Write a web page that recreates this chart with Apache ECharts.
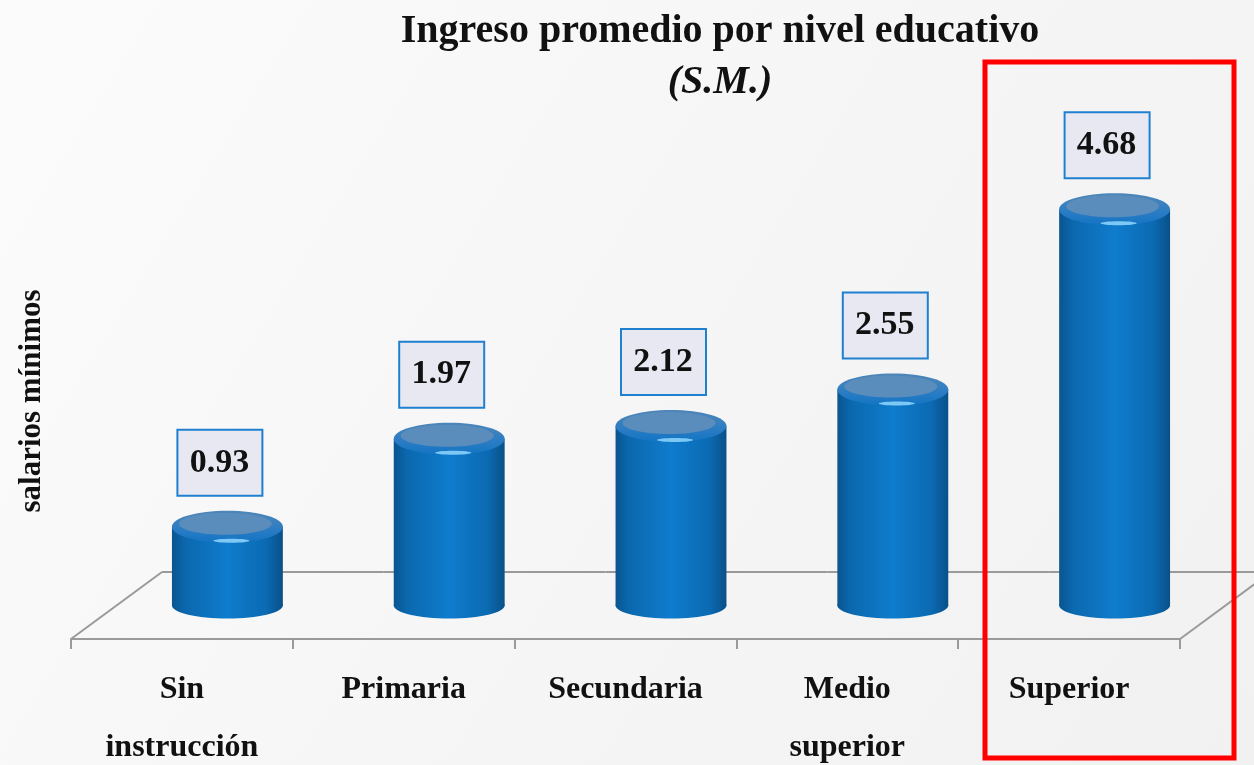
<!DOCTYPE html>
<html><head><meta charset="utf-8">
<script src="https://cdn.jsdelivr.net/npm/echarts@6/dist/echarts.min.js"></script>
<style>html,body{margin:0;padding:0;background:#f5f5f5}#c{width:1254px;height:765px}</style>
</head><body><div id="c"></div>
<script>
const categories = ['Sin\ninstrucción', 'Primaria', 'Secundaria', 'Medio\nsuperior', 'Superior'];
const values = [0.93, 1.97, 2.12, 2.55, 4.68];
const valueLabels = ['0.93', '1.97', '2.12', '2.55', '4.68'];
const titleText = 'Ingreso promedio por nivel educativo';
const subtitleText = '(S.M.)';
const yAxisName = 'salarios mínimos';

const DEPTH_X = 91, DEPTH_Y = -67;
const serif = '"Liberation Serif", "DejaVu Serif", serif';
const chart = echarts.init(document.getElementById('c'), null, {renderer: 'canvas'});

function floorRender(params, api) {
  const i = params.dataIndex, n = values.length;
  const c = api.coord([i, 0]);
  const bw = api.size([1, 0])[0];
  const x0 = c[0] - bw / 2, x1 = c[0] + bw / 2, y = c[1];
  const style = {stroke: '#9a9a9a', lineWidth: 2, fill: null};
  const ch = [];
  ch.push({type: 'line', shape: {x1: x0 + DEPTH_X, y1: y + DEPTH_Y, x2: x1 + DEPTH_X, y2: y + DEPTH_Y}, style});
  if (i === 0) ch.push({type: 'line', shape: {x1: x0, y1: y, x2: x0 + DEPTH_X, y2: y + DEPTH_Y}, style});
  if (i === n - 1) ch.push({type: 'line', shape: {x1: x1, y1: y, x2: x1 + DEPTH_X, y2: y + DEPTH_Y}, style});
  return {type: 'group', children: ch};
}

function cylRender(params, api) {
  const i = params.dataIndex;
  const v = api.value(1);
  const base = api.coord([i, 0]);
  const top = api.coord([i, v]);
  const bw = api.size([1, 0])[0] * 0.5;
  const cx = base[0] + DEPTH_X / 2, by = base[1] + DEPTH_Y / 2, ty = top[1] + DEPTH_Y / 2;
  const rx = bw / 2, ry = 15;
  const bodyGrad = new echarts.graphic.LinearGradient(0, 0, 1, 0, [
    {offset: 0, color: '#0a558f'}, {offset: 0.12, color: '#0b68ae'},
    {offset: 0.5, color: '#0f7ccd'}, {offset: 0.85, color: '#0b6ab2'}, {offset: 1, color: '#0a5088'}]);
  const rimGrad = new echarts.graphic.LinearGradient(0, 0, 0, 1, [
    {offset: 0, color: '#4f86b8'}, {offset: 0.6, color: '#2a7cc4'}, {offset: 1, color: '#1274c4'}]);
  const lx = cx - 8, ly = ty - 64;
  return {
    type: 'group',
    children: [
      {type: 'ellipse', shape: {cx: cx, cy: by, rx: rx, ry: ry - 2}, style: {fill: bodyGrad}},
      {type: 'rect', shape: {x: cx - rx, y: ty, width: 2 * rx, height: by - ty}, style: {fill: bodyGrad}},
      {type: 'ellipse', shape: {cx: cx, cy: ty, rx: rx, ry: ry + 1}, style: {fill: rimGrad}},
      {type: 'ellipse', shape: {cx: cx - 2, cy: ty - 3, rx: rx - 9, ry: ry - 4}, style: {fill: '#5a8dbb'}},
      {type: 'ellipse', shape: {cx: cx + 4, cy: ty + ry - 1, rx: 18, ry: 2}, style: {fill: '#8fd8ff', opacity: 0.85}},
      {type: 'rect', shape: {x: lx - 42, y: ly - 33, width: 85, height: 66},
        style: {fill: '#e8e8f3', stroke: '#1f80d0', lineWidth: 2}},
      {type: 'text', style: {x: lx, y: ly, text: valueLabels[i], textAlign: 'center', textVerticalAlign: 'middle',
        font: 'bold 34px ' + serif, fill: '#111'}}
    ]
  };
}

const data = values.map((v, i) => [i, v]);

chart.setOption({
  backgroundColor: new echarts.graphic.LinearGradient(0, 0, 1, 1, [
    {offset: 0, color: '#fbfbfb'}, {offset: 1, color: '#f1f1f1'}]),
  animation: false,
  title: [
    {text: titleText, left: 715, top: 7, textAlign: 'center',
      textStyle: {fontFamily: serif, fontWeight: 'bold', fontSize: 40, color: '#111'}},
    {text: subtitleText, left: 715, top: 58, textAlign: 'center',
      textStyle: {fontFamily: serif, fontWeight: 'bold', fontStyle: 'italic', fontSize: 40, color: '#111'}}
  ],
  grid: {left: 71, right: 74, top: 131, bottom: 126, outerBoundsMode: 'none', containLabel: false},
  xAxis: {
    type: 'category', data: categories, boundaryGap: true,
    axisLine: {lineStyle: {color: '#9a9a9a', width: 2}},
    axisTick: {show: true, length: 10, lineStyle: {color: '#9a9a9a', width: 2}},
    axisLabel: {margin: 22, fontFamily: serif, fontWeight: 'bold', fontSize: 32, color: '#111', lineHeight: 58}
  },
  yAxis: {type: 'value', min: 0, max: 6, show: false},
  graphic: [
    {type: 'text', x: 32, y: 401, rotation: Math.PI / 2,
      style: {text: yAxisName, textAlign: 'center', textVerticalAlign: 'middle',
        font: 'bold 31px ' + serif, fill: '#111'}},
    {type: 'rect', shape: {x: 985, y: 62, width: 249, height: 696},
      style: {fill: null, stroke: '#ff0000', lineWidth: 5}, z: 100}
  ],
  series: [
    {type: 'custom', renderItem: floorRender, data: data, z: 1, silent: true},
    {type: 'custom', renderItem: cylRender, data: data, z: 2, silent: true}
  ]
});
</script></body></html>
